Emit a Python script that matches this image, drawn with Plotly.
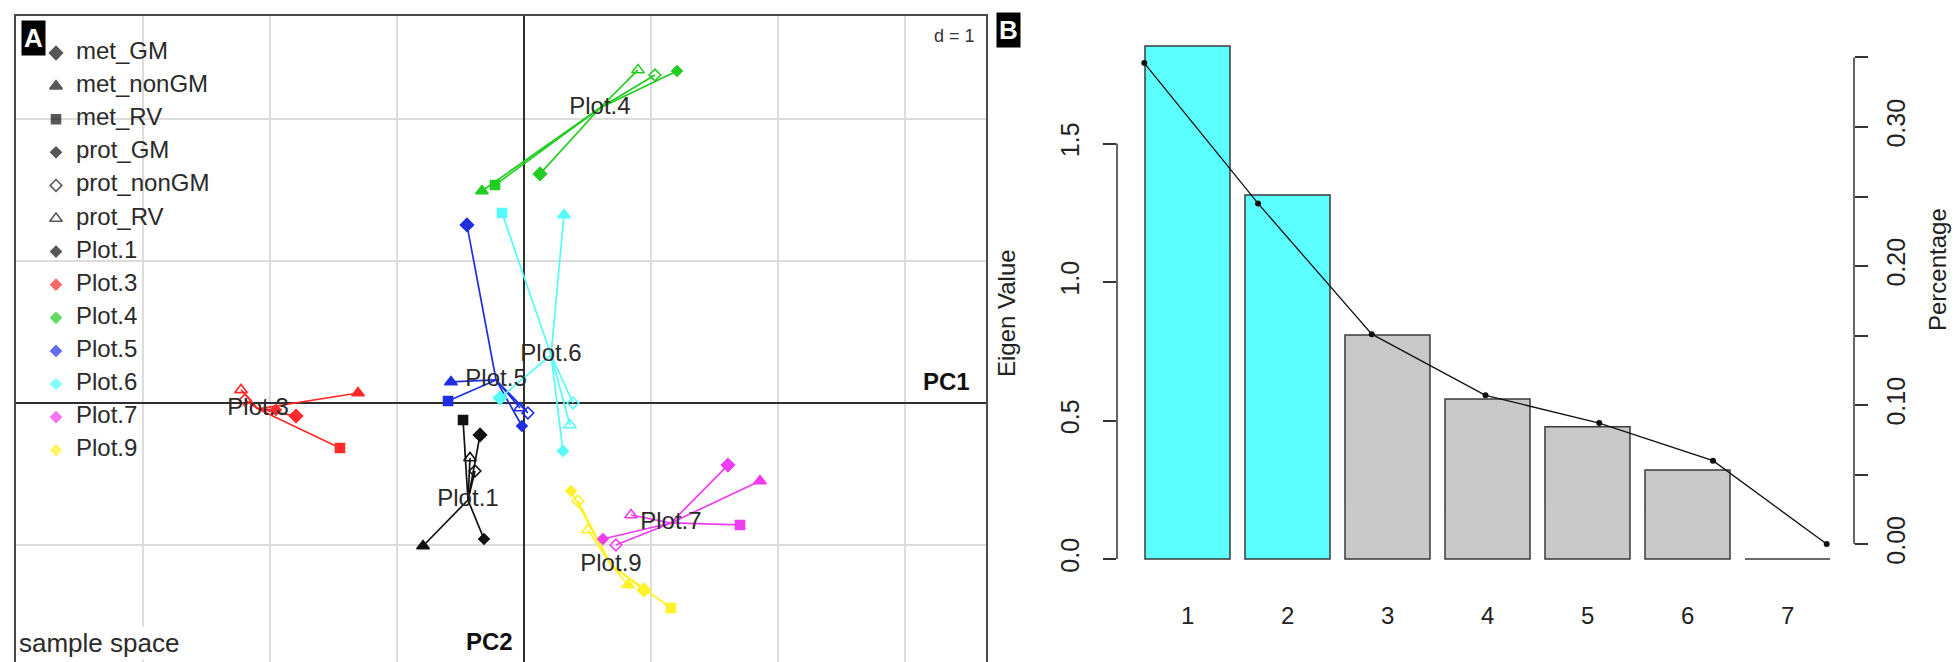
import plotly.graph_objects as go

W, H = 1960, 662
FONT = "Liberation Sans, Arial, sans-serif"

# ---------------- Panel A data (PC1, PC2 in d = 1 units) ----------------
groups = ["Plot.1", "Plot.3", "Plot.4", "Plot.5", "Plot.6", "Plot.7", "Plot.9"]
group_colors = ["#111111", "#FF2B2B", "#22CD22", "#1F2FE0", "#55FAFA", "#F03CF0", "#FFF22A"]

met_GM_x = [-0.346, -1.795, 0.126, -0.449, -0.189, 1.606, 0.945]
met_GM_y = [-0.225, -0.092, 1.613, 1.254, 0.035, -0.437, -1.317]
met_nonGM_x = [-0.795, -1.307, -0.331, -0.575, 0.315, 1.858, 0.819]
met_nonGM_y = [-1.007, 0.070, 1.493, 0.148, 1.324, -0.549, -1.282]
met_RV_x = [-0.480, -1.449, -0.228, -0.598, -0.173, 1.701, 1.157]
met_RV_y = [-0.120, -0.317, 1.535, 0.014, 1.338, -0.859, -1.444]
prot_GM_x = [-0.315, -1.953, 1.205, -0.016, 0.307, 0.622, 0.370]
prot_GM_y = [-0.958, -0.049, 2.338, -0.162, -0.338, -0.958, -0.620]
prot_nonGM_x = [-0.386, -2.197, 1.031, 0.031, 0.386, 0.724, 0.425]
prot_nonGM_y = [-0.479, 0.021, 2.310, -0.070, 0.000, -1.000, -0.690]
prot_RV_x = [-0.425, -2.228, 0.898, -0.031, 0.362, 0.843, 0.504]
prot_RV_y = [-0.387, 0.092, 2.345, -0.035, -0.155, -0.789, -0.894]
centroid_x = [-0.441, -2.094, 0.598, -0.220, 0.213, 1.157, 0.685]
centroid_y = [-0.683, -0.042, 2.077, 0.162, 0.338, -0.845, -1.141]

point_types = ["met_GM", "met_nonGM", "met_RV", "prot_GM", "prot_nonGM", "prot_RV"]
point_x = [met_GM_x, met_nonGM_x, met_RV_x, prot_GM_x, prot_nonGM_x, prot_RV_x]
point_y = [met_GM_y, met_nonGM_y, met_RV_y, prot_GM_y, prot_nonGM_y, prot_RV_y]
symbols = ["diamond", "triangle-up", "square", "diamond", "diamond-open", "triangle-up-open"]
sizes = [10, 11, 9, 8, 9, 11]

# ---------------- Panel B data ----------------
components = [1, 2, 3, 4, 5, 6, 7]
eigen_values = [1.852, 1.314, 0.809, 0.578, 0.477, 0.321, 0.0]
percentage = [0.346, 0.245, 0.151, 0.107, 0.087, 0.060, 0.0]
bar_colors = ["#5CFFFF", "#5CFFFF", "#C9C9C9", "#C9C9C9", "#C9C9C9", "#C9C9C9", "#C9C9C9"]
eig_ticks = [0.0, 0.5, 1.0, 1.5]
eig_ticktext = ["0.0", "0.5", "1.0", "1.5"]
pct_ticks = [0.0, 0.05, 0.10, 0.15, 0.20, 0.25, 0.30, 0.35]
pct_ticktext = ["0.00", "", "0.10", "", "0.20", "", "0.30", ""]


def px_x(p):
    return p / W


def px_y(p):
    return 1 - p / H


fig = go.Figure()

# ---- Panel A: star lines from each point to group centroid ----
for g, (name, col) in enumerate(zip(groups, group_colors)):
    lx, ly = [], []
    for xs, ys in zip(point_x, point_y):
        lx += [xs[g], centroid_x[g], None]
        ly += [ys[g], centroid_y[g], None]
    fig.add_trace(go.Scatter(x=lx, y=ly, mode="lines", xaxis="x", yaxis="y",
                             line=dict(color=col, width=1.7), hoverinfo="skip", showlegend=False))

for g, (name, col) in enumerate(zip(groups, group_colors)):
    for t, (xs, ys) in enumerate(zip(point_x, point_y)):
        fig.add_trace(go.Scatter(x=[xs[g]], y=[ys[g]], mode="markers", xaxis="x", yaxis="y",
                                 marker=dict(symbol=symbols[t], size=sizes[t], color=col,
                                             line=dict(color=col, width=1.6)),
                                 name=f"{name} {point_types[t]}", showlegend=False))

# group labels at centroids
fig.add_trace(go.Scatter(x=centroid_x, y=centroid_y, mode="text", text=groups, xaxis="x", yaxis="y",
                         textfont=dict(family=FONT, size=24, color="#2a2a2a"),
                         textposition="middle center", hoverinfo="skip", showlegend=False))

# ---- Panel B: bars, percentage line ----
fig.add_trace(go.Bar(x=components, y=eigen_values, xaxis="x2", yaxis="y2", width=0.85,
                     marker=dict(color=bar_colors, line=dict(color="#3a3a3a", width=1.5)),
                     showlegend=False))
fig.add_trace(go.Scatter(x=components, y=percentage, xaxis="x3", yaxis="y3", mode="lines+markers",
                         line=dict(color="#111111", width=1.3),
                         marker=dict(color="#111111", size=6), showlegend=False))

# ---- Legend of panel A (drawn on a full-page pixel-space axis) ----
legend_labels = point_types + groups
legend_symbols = symbols + ["diamond"] * len(groups)
legend_sizes = sizes + [8] * len(groups)
legend_colors = ["#111111"] * len(point_types) + group_colors
row_y = [45 + 33.1 * i for i in range(len(legend_labels))]
fig.add_trace(go.Scatter(x=[48] * len(legend_labels), y=row_y, mode="markers", xaxis="x4", yaxis="y4",
                         marker=dict(symbol=legend_symbols, size=legend_sizes, color=legend_colors,
                                     line=dict(color=legend_colors, width=1.6)),
                         hoverinfo="skip", showlegend=False))
fig.add_trace(go.Scatter(x=[68] * len(legend_labels), y=row_y, mode="text", text=legend_labels,
                         xaxis="x4", yaxis="y4", textposition="middle right",
                         textfont=dict(family=FONT, size=24, color="#2a2a2a"),
                         hoverinfo="skip", showlegend=False))

annotations = []
# Panel A corner texts
annotations.append(dict(text="sample space", x=px_x(9), y=px_y(635), xref="paper", yref="paper",
                        xanchor="left", yanchor="middle", showarrow=False, bgcolor="white",
                        font=dict(family=FONT, size=26, color="#2a2a2a")))
annotations.append(dict(text="<b>PC1</b>", x=px_x(964), y=px_y(373), xref="paper", yref="paper",
                        xanchor="right", yanchor="middle", showarrow=False,
                        font=dict(family=FONT, size=24, color="#111")))
annotations.append(dict(text="<b>PC2</b>", x=px_x(507), y=px_y(633), xref="paper", yref="paper",
                        xanchor="right", yanchor="middle", showarrow=False,
                        font=dict(family=FONT, size=24, color="#111")))
annotations.append(dict(text="d = 1", x=px_x(969), y=px_y(28), xref="paper", yref="paper",
                        xanchor="right", yanchor="middle", showarrow=False,
                        font=dict(family=FONT, size=18, color="#333")))
# Panel letters
annotations.append(dict(text="<b>A</b>", x=px_x(25.5), y=px_y(30), xref="paper", yref="paper",
                        xanchor="center", yanchor="middle", showarrow=False, bgcolor="black", borderpad=2,
                        font=dict(family=FONT, size=26, color="white")))
annotations.append(dict(text="<b>B</b>", x=px_x(1001), y=px_y(22), xref="paper", yref="paper",
                        xanchor="center", yanchor="middle", showarrow=False, bgcolor="black", borderpad=2,
                        font=dict(family=FONT, size=26, color="white")))
# Panel B category labels and axis titles
for c in components:
    annotations.append(dict(text=str(c), x=c, y=px_y(607), xref="x2", yref="paper",
                            xanchor="center", yanchor="middle", showarrow=False,
                            font=dict(family=FONT, size=24, color="#222")))
annotations.append(dict(text="Eigen Value", x=px_x(998), y=px_y(305), xref="paper", yref="paper",
                        textangle=-90, xanchor="center", yanchor="middle", showarrow=False,
                        font=dict(family=FONT, size=24, color="#222")))
annotations.append(dict(text="Percentage", x=px_x(1930), y=px_y(262), xref="paper", yref="paper",
                        textangle=-90, xanchor="center", yanchor="middle", showarrow=False,
                        font=dict(family=FONT, size=24, color="#222")))

shapes = [
    # left axis line of panel B (0 to 1.5)
    dict(type="line", xref="paper", yref="y2", x0=px_x(1109), x1=px_x(1109), y0=0, y1=1.5,
         line=dict(color="#333", width=1.5)),
    # right axis line of panel B (0 to 0.35)
    dict(type="line", xref="paper", yref="y3", x0=px_x(1846), x1=px_x(1846), y0=0, y1=0.35,
         line=dict(color="#333", width=1.5)),
]

axA = dict(showgrid=True, gridcolor="#DCDCDC", gridwidth=1.5, dtick=1, tick0=0,
           zeroline=True, zerolinecolor="#2e2e2e", zerolinewidth=1.6,
           showticklabels=False, ticks="", showline=True, mirror=True,
           linecolor="#4a4a4a", linewidth=2)

fig.update_layout(
    width=W, height=H, margin=dict(l=0, r=0, t=0, b=0),
    paper_bgcolor="white", plot_bgcolor="rgba(0,0,0,0)",
    font=dict(family=FONT),
    xaxis=dict(domain=[px_x(8), px_x(978)], range=[-4.0, 3.638], anchor="y", **axA),
    yaxis=dict(domain=[px_y(654), px_y(8)], range=[-1.824, 2.725], anchor="x", **axA),
    xaxis2=dict(domain=[px_x(1109), px_x(1846)], range=[0.295, 7.665], anchor="y2",
                showgrid=False, zeroline=False, showticklabels=False, ticks="", showline=False),
    yaxis2=dict(domain=[px_y(571.5), px_y(17.5)], range=[-0.074, 1.926], anchor="x2",
                tickvals=eig_ticks, ticktext=eig_ticktext, ticks="outside", ticklen=13,
                tickwidth=1.5, tickcolor="#333", tickangle=-90, ticklabelstandoff=14,
                tickfont=dict(family=FONT, size=25, color="#222"),
                showgrid=False, zeroline=False, showline=False),
    xaxis3=dict(domain=[px_x(1109), px_x(1846)], range=[0.76, 7.24], overlaying="x2", anchor="y3",
                visible=False),
    yaxis3=dict(domain=[px_y(571.5), px_y(17.5)], range=[-0.0255, 0.373], overlaying="y2",
                anchor="x2", side="right",
                tickvals=pct_ticks, ticktext=pct_ticktext, ticks="outside", ticklen=13,
                tickwidth=1.5, tickcolor="#333", tickangle=-90, ticklabelstandoff=7,
                tickfont=dict(family=FONT, size=25, color="#222"),
                showgrid=False, zeroline=False, showline=False),
    xaxis4=dict(domain=[0, 1], range=[0, W], anchor="y4", visible=False, fixedrange=True),
    yaxis4=dict(domain=[0, 1], range=[H, 0], anchor="x4", visible=False, fixedrange=True),
    annotations=annotations,
    shapes=shapes,
)

fig.write_html("out.html")
